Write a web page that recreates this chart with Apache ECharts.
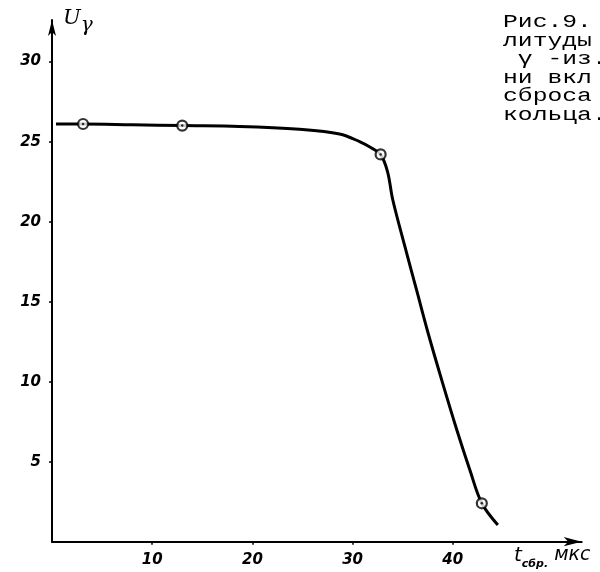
<!DOCTYPE html>
<html>
<head>
<meta charset="utf-8">
<script src="https://cdn.jsdelivr.net/npm/echarts@6/dist/echarts.min.js"></script>
<style>html,body{margin:0;padding:0;background:#fff}#c{width:600px;height:572px}</style>
</head>
<body>
<div id="c"></div>
<script>
// Curve (hand-drawn line)
const curveX = [0.4, 3.1, 8.0, 13.0, 18.7, 24.7, 28.7, 30.7, 31.9, 32.8, 33.5, 34.0, 35.2, 36.4, 37.6, 38.9, 40.4, 41.7, 42.9, 44.5];
const curveY = [26.1, 26.1, 26.05, 26.0, 25.95, 25.77, 25.48, 25.0, 24.6, 24.2, 23.1, 21.4, 18.5, 15.7, 12.9, 10.1, 7.0, 4.5, 2.4, 1.05];
// Measured points (circle markers)
const markX = [3.1, 13.0, 32.8, 42.9];
const markY = [26.1, 26.0, 24.2, 2.4];
// Tick labels
const xTicks = [10, 20, 30, 40];
const yTicks = [5, 10, 15, 20, 25, 30];
const captionLines = ['Рис.9.', 'литуды', ' γ -из.', 'ни вкл', 'сброса', 'кольца.'];

const chart = echarts.init(document.getElementById('c'), null, {renderer: 'canvas'});
const tickFont = {fontFamily: 'DejaVu Sans', fontStyle: 'italic', fontWeight: 'bold', fontSize: 15, color: '#000'};

chart.setOption({
  animation: false,
  backgroundColor: '#fff',
  grid: {left: 52, right: 18.3, top: 20, bottom: 30.3, containLabel: false},
  xAxis: {
    type: 'value', min: 0, max: 52.87, interval: 10,
    splitLine: {show: false},
    axisLine: {show: true, symbol: ['none', 'arrow'], symbolSize: [7, 18], lineStyle: {color: '#000', width: 2}},
    axisTick: {show: true, customValues: xTicks, length: 3, inside: false, lineStyle: {color: '#000', width: 1.5}},
    axisLabel: {show: true, customValues: xTicks, margin: 11, ...tickFont}
  },
  yAxis: {
    type: 'value', min: 0, max: 32.6, interval: 5,
    splitLine: {show: false},
    axisLine: {show: true, symbol: ['none', 'arrow'], symbolSize: [6, 16], lineStyle: {color: '#000', width: 2}},
    axisTick: {show: true, customValues: yTicks, length: 3, lineStyle: {color: '#000', width: 1.5}},
    axisLabel: {show: true, customValues: yTicks, margin: 11, ...tickFont}
  },
  series: [
    {
      type: 'line',
      data: curveX.map((x, i) => [x, curveY[i]]),
      smooth: 0.35,
      showSymbol: false,
      lineStyle: {color: '#000', width: 3},
      z: 2
    },
    {
      type: 'scatter',
      data: markX.map((x, i) => [x, markY[i]]),
      symbol: 'circle',
      symbolSize: 10,
      itemStyle: {color: '#fff', borderColor: '#000', borderWidth: 2.2},
      z: 3
    },
    {
      type: 'scatter',
      data: markX.map((x, i) => [x, markY[i]]),
      symbol: 'circle',
      symbolSize: 2.5,
      itemStyle: {color: '#000'},
      z: 4
    }
  ],
  graphic: [
    {
      type: 'text', left: 63, top: 8,
      style: {
        text: '{u|U}{g|γ}',
        rich: {
          u: {fontFamily: 'DejaVu Serif', fontStyle: 'italic', fontSize: 21, fill: '#000', lineHeight: 28, verticalAlign: 'top'},
          g: {fontFamily: 'DejaVu Serif', fontStyle: 'italic', fontSize: 20, fill: '#000', lineHeight: 28, verticalAlign: 'bottom'}
        }
      }
    },
    {
      type: 'text', left: 514, top: 546,
      style: {
        text: '{t|t}{s|сбр.}{m| мкс}',
        rich: {
          t: {fontFamily: 'DejaVu Sans', fontStyle: 'italic', fontSize: 20, fill: '#000', lineHeight: 24, verticalAlign: 'top'},
          s: {fontFamily: 'DejaVu Sans', fontStyle: 'italic', fontWeight: 'bold', fontSize: 11, fill: '#000', lineHeight: 24, verticalAlign: 'bottom'},
          m: {fontFamily: 'DejaVu Sans', fontStyle: 'italic', fontSize: 19, fill: '#000', lineHeight: 24, verticalAlign: 'top'}
        }
      }
    }
  ].concat(captionLines.map((t, i) => ({
    type: 'text', x: 503, y: 22 + i * 18.6, scaleX: 1.3,
    style: {text: t, fontFamily: 'Liberation Mono', fontSize: 19, fill: '#000', verticalAlign: 'middle'}
  })))
});
</script>
</body>
</html>
